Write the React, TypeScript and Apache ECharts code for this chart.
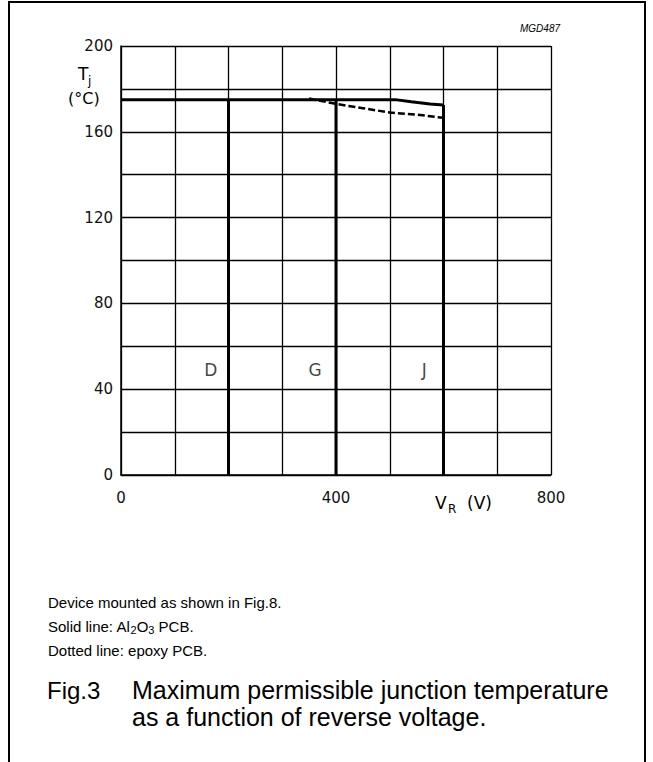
import React, { useEffect, useRef } from "react";
import * as echarts from "echarts";

const solidV = [0, 510, 540, 575, 600];
const solidT = [175, 175, 174, 173, 172.5];
const dashedV = [350, 400, 450, 500, 550, 600];
const dashedT = [175.5, 173, 171, 169, 168, 166.5];
const typeNames = ["D", "G", "J"];
const typeV = [200, 400, 600];
const typeTop = [175, 175, 172.5];
const labelV = [167, 361, 564];
const labelT = 49;
const xTickLabels = [0, 400, 800];
const yTickLabels = [0, 40, 80, 120, 160, 200];

const FONT = "'Liberation Sans', Arial, sans-serif";
const AX = "'DejaVu Sans', sans-serif";

export default function App() {
  const ref = useRef<HTMLDivElement>(null);
  useEffect(() => {
    document.body.style.margin = "0";
    const chart = echarts.init(ref.current!, null, { renderer: "svg" });
    const vSeries = typeV.map((v, i) => ({
      type: "line",
      data: [
        [v, 0],
        [v, typeTop[i]],
      ],
      symbol: "none",
      lineStyle: { color: "#000", width: 3 },
      z: 3,
    }));
    const txt = (text: string, x: number, y: number, font: string, extra: any = {}) => ({
      type: "text",
      x,
      y,
      style: { text, font, fill: "#000", verticalAlign: "middle", ...extra },
    });
    chart.setOption({
      animation: false,
      backgroundColor: "#fff",
      grid: { left: 121, right: 102, top: 46, bottom: 287 },
      xAxis: {
        type: "value",
        min: 0,
        max: 800,
        interval: 100,
        axisLine: { show: true, lineStyle: { color: "#000", width: 1.5 } },
        axisTick: { show: false },
        splitLine: { show: true, lineStyle: { color: "#000", width: 1.3 } },
        axisLabel: {
          margin: 15,
          fontFamily: AX,
          fontSize: 15,
          color: "#111",
          formatter: (v: number) => (xTickLabels.includes(v) ? String(v) : ""),
        },
      },
      yAxis: {
        type: "value",
        min: 0,
        max: 200,
        interval: 20,
        axisLine: { show: true, lineStyle: { color: "#000", width: 1.5 } },
        axisTick: { show: false },
        splitLine: { show: true, lineStyle: { color: "#000", width: 1.3 } },
        axisLabel: {
          margin: 8,
          fontFamily: AX,
          fontSize: 15,
          color: "#111",
          formatter: (v: number) => (yTickLabels.includes(v) ? String(v) : ""),
        },
      },
      series: [
        {
          type: "line",
          data: solidV.map((v, i) => [v, solidT[i]]),
          symbol: "none",
          lineStyle: { color: "#000", width: 3 },
          z: 4,
        },
        {
          type: "line",
          data: dashedV.map((v, i) => [v, dashedT[i]]),
          symbol: "none",
          lineStyle: { color: "#000", width: 2.5, type: [7, 3] },
          z: 4,
        },
        ...vSeries,
        {
          type: "scatter",
          symbolSize: 0,
          data: typeNames.map((n, i) => ({ value: [labelV[i], labelT], name: n })),
          label: {
            show: true,
            position: "inside",
            formatter: "{b}",
            fontFamily: AX,
            fontSize: 17,
            color: "#111",
          },
          z: 5,
        },
      ],
      graphic: [
        {
          type: "rect",
          shape: { x: 9, y: 2, width: 636, height: 800 },
          style: { fill: "none", stroke: "#000", lineWidth: 2 },
          silent: true,
        },
        txt("MGD487", 520, 28, `italic 10px ${FONT}`),
        txt("T", 78, 74, `17px ${AX}`),
        txt("j", 88, 81, `12px ${AX}`),
        txt("(°C)", 68, 98, `16px ${AX}`),
        txt("V", 435, 503, `17px ${AX}`),
        txt("R", 448, 509, `12px ${AX}`),
        txt("(V)", 467, 503, `17px ${AX}`),
        txt("Device mounted as shown in Fig.8.", 48, 602, `15px ${FONT}`),
        {
          type: "text",
          x: 48,
          y: 626,
          style: {
            text: "{a|Solid line: Al}{s|2}{a|O}{s|3}{a| PCB.}",
            verticalAlign: "middle",
            rich: {
              a: { fontFamily: FONT, fontSize: 15, fill: "#000" },
              s: { fontFamily: FONT, fontSize: 11, fill: "#000", padding: [8, 0, 0, 0] },
            },
          },
        },
        txt("Dotted line: epoxy PCB.", 48, 650, `15px ${FONT}`),
        txt("Fig.3", 47, 690, `24px ${FONT}`),
        txt("Maximum permissible junction temperature", 132, 690, `25px ${FONT}`),
        txt("as a function of reverse voltage.", 132, 717, `25px ${FONT}`),
      ],
    });
    return () => chart.dispose();
  }, []);
  return <div ref={ref} style={{ width: 653, height: 762 }} />;
}
